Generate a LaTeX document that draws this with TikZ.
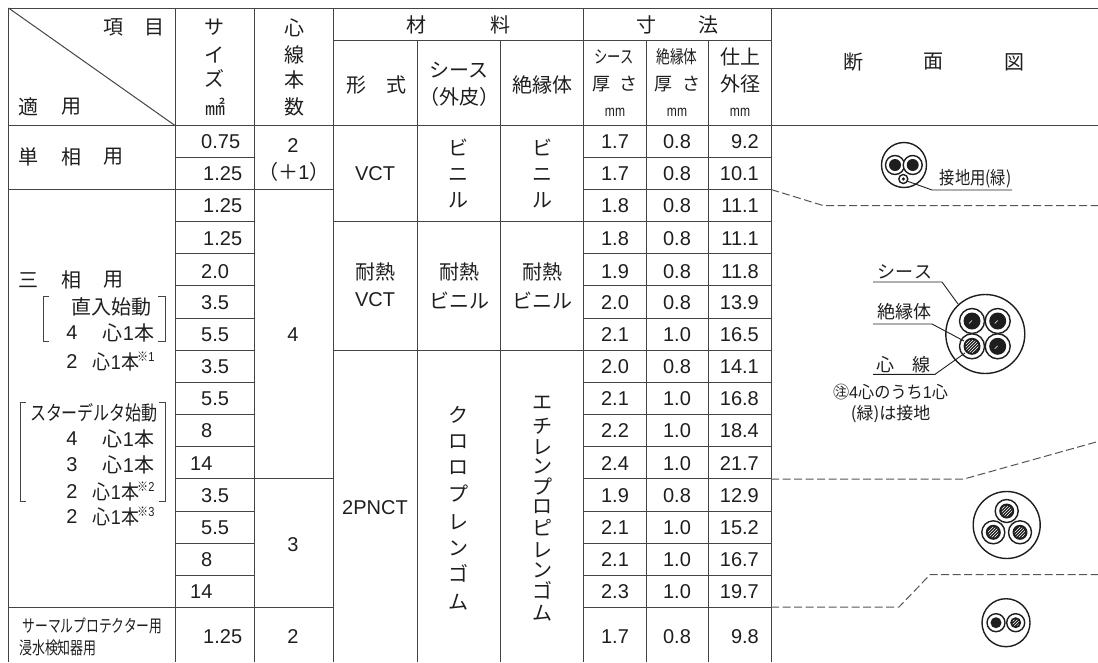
\documentclass[tikz,border=0pt]{standalone}
\usepackage{fontspec}
\usetikzlibrary{patterns}
\setmainfont{Liberation Sans}
\newfontfamily\jp{Noto Sans CJK JP}
\newcommand{\fs}[1]{\fontsize{#1}{#1}\selectfont}
\newcommand{\J}[1]{{\jp #1}}
\newcommand{\cond}[2]{\scalebox{#1}[1]{#2}}
\definecolor{ink}{HTML}{1E1E1E}
\definecolor{rule}{HTML}{444444}
\definecolor{dashc}{HTML}{555555}
\newcounter{tn}
% text node with automatic name: \T[options]{x}{y}{text}
\newcommand{\T}[4][]{\stepcounter{tn}\node[txt,#1] (t\arabic{tn}) at (#2,#3) {#4};}
\newcommand{\wirecore}[4]{\draw[wire,fill=white] (#1,#2) circle[radius=#3];\fill[ink] (#1,#2) circle[radius=#4];}
\newcommand{\hatchcore}[4]{\wirecore{#1}{#2}{#3}{#4}\fill[pattern=north east lines,pattern color=white] (#1,#2) circle[radius=#4-2];}
\newcommand{\slashcore}[4]{\wirecore{#1}{#2}{#3}{#4}\draw[white,line width=0.4pt] (#1-3,#2+2.5) -- (#1,#2-0.5);}
\tikzset{
  txt/.style={inner sep=0pt,text=ink,font=\jp\fs{20}},
  num/.style={inner sep=0pt,text=ink,font=\fs{20}},
  unit/.style={inner sep=0pt,text=ink,font=\fs{15.5}},
  grid/.style={draw=rule,line width=1pt},
  wire/.style={draw=ink,line width=1.4pt},
  lead/.style={draw=ink,line width=0.9pt},
  dashline/.style={draw=dashc,line width=1pt,dash pattern=on 8pt off 3.5pt},
}
\begin{document}
\begin{tikzpicture}[x=1pt,y=-1pt]
\useasboundingbox (0,0) rectangle (1098,662);
% ---- grid
\draw[grid] (8.5,8) -- (1098,8);
\draw[grid] (333.5,40) -- (771,40);
\draw[grid] (8.5,125.5) -- (1098,125.5);
\draw[grid] (8.5,8) -- (175,125.5);
\foreach \xx in {8.5,175,254.5,333.5,771} \draw[grid] (\xx,8) -- (\xx,662);
\foreach \xx in {417,500.5,583.5} \draw[grid] (\xx,40) -- (\xx,662);
\draw[grid] (583.5,8) -- (583.5,40);
\foreach \xx in {646,708} \draw[grid] (\xx,40) -- (\xx,662);
% size and dimension rows
\foreach \yy in {157.5,189.5,221.5,253.7,285.8,318,350,382,414,446.5,478.5,511,543,575,607} {
  \draw[grid] (175,\yy) -- (254.5,\yy);
  \draw[grid] (583.5,\yy) -- (771,\yy);
}
\draw[grid] (8.5,189.5) -- (333.5,189.5);
\draw[grid] (8.5,607) -- (333.5,607);
\draw[grid] (254.5,478.5) -- (333.5,478.5);
\draw[grid] (333.5,221.5) -- (583.5,221.5);
\draw[grid] (333.5,350) -- (583.5,350);
% ---- header
\T{113}{27.5}{項}\T{154}{27.5}{目}
\T{29}{107}{適}\T{71}{107}{用}
\T{214.5}{27}{サ}\T{214.5}{55}{イ}\T{214.5}{78}{ズ}
\T{215}{107}{㎟}
\T{294.7}{28}{心}\T{294.7}{55}{線}\T{294.7}{80}{本}\T{294.7}{107}{数}
\T{416.7}{25}{材}\T{500.7}{25}{料}
\T{646}{25}{寸}\T{708}{25}{法}
\T{356}{85}{形}\T{396}{85}{式}
\T{459}{70}{シース}
\T{459}{97}{（外皮）}
\T{542}{85}{絶縁体}
\T{614}{57}{\fs{18}\cond{.74}{シース}}
\T{601}{84}{\fs{18}厚}\T{628}{84}{\fs{18}さ}
\T[unit]{615}{112}{\cond{.78}{mm}}
\T{677}{57}{\fs{18}\cond{.76}{絶縁体}}
\T{663}{84}{\fs{18}厚}\T{691}{84}{\fs{18}さ}
\T[unit]{677}{112}{\cond{.78}{mm}}
\T{740}{57}{仕上}\T{740}{84}{外径}
\T[unit]{740}{112}{\cond{.78}{mm}}
\T{853}{62}{断}\T{933}{62}{面}\T{1014}{62}{図}
% ---- first column
\T{29}{157}{単}\T{71}{157}{相}\T{113}{157}{用}
\T{29}{280}{三}\T{71}{280}{相}\T{113}{280}{用}
\T{111.5}{307}{直入始動}
\T[num]{72}{333}{4}
\T{128.5}{333}{\J{心}\fs{20}\rmfamily 1\J{本}}
\T[num]{72}{362}{2}
\T{116}{362}{\cond{.9}{\J{心}\fs{20}\rmfamily 1\J{本}}}
\T[anchor=west]{137}{357}{\fs{13}\cond{.85}{\J{※}\rmfamily 1}}
\draw[grid] (49,296) -- (43,296) -- (43,341) -- (49,341);
\draw[grid] (158,296) -- (165,296) -- (165,341) -- (158,341);
\T{94}{413}{\cond{.8}{スターデルタ始動}}
\T[num]{72}{439}{4}
\T{128.5}{439}{\J{心}\fs{20}\rmfamily 1\J{本}}
\T[num]{72}{465}{3}
\T{128.5}{465}{\J{心}\fs{20}\rmfamily 1\J{本}}
\T[num]{72}{492}{2}
\T{116}{492}{\cond{.9}{\J{心}\fs{20}\rmfamily 1\J{本}}}
\T[anchor=west]{137}{487}{\fs{13}\cond{.85}{\J{※}\rmfamily 2}}
\T[num]{72}{517}{2}
\T{116}{517}{\cond{.9}{\J{心}\fs{20}\rmfamily 1\J{本}}}
\T[anchor=west]{137}{512}{\fs{13}\cond{.85}{\J{※}\rmfamily 3}}
\draw[grid] (26,402) -- (20,402) -- (20,501) -- (26,501);
\draw[grid] (159,402) -- (165,402) -- (165,501) -- (159,501);
\T{92.5}{626}{\fs{17.5}\cond{.73}{サーマルプロテクター用}}
\T{58}{648}{\fs{17.5}\cond{.74}{浸水検知器用}}
% ---- numeric rows
\foreach \i/\yy/\sz/\sx/\sh/\ins/\od in {
 1/142/0.75/201/1.7/0.8/9.2, 2/174/1.25/203/1.7/0.8/10.1, 3/206/1.25/203/1.8/0.8/11.1,
 4/239/1.25/203/1.8/0.8/11.1, 5/272/2.0/201/1.9/0.8/11.8, 6/303/3.5/201/2.0/0.8/13.9,
 7/335/5.5/201/2.1/1.0/16.5, 8/367/3.5/201/2.0/0.8/14.1, 9/399/5.5/201/2.1/1.0/16.8,
 10/431/8/201/2.2/1.0/18.4, 11/464/14/190/2.4/1.0/21.7, 12/496/3.5/201/1.9/0.8/12.9,
 13/528/5.5/201/2.1/1.0/15.2, 14/560/8/201/2.1/1.0/16.7, 15/592/14/190/2.3/1.0/19.7,
 16/637/1.25/203/1.7/0.8/9.8} {
  \node[num,anchor=west] (size\i) at (\sx,\yy) {\sz};
  \node[num] (sheath\i) at (615,\yy) {\sh};
  \node[num] (insul\i) at (677,\yy) {\ins};
  \node[num,anchor=east] (od\i) at (759,\yy) {\od};
}
% ---- core count
\T[num]{293}{146}{2}
\T[num]{294}{172}{\J{（＋}1\J{）}}
\T[num]{293}{335}{4}
\T[num]{293}{545}{3}
\T[num]{293}{637}{2}
% ---- materials
\T[num]{375}{174}{VCT}
\T{458}{147}{ビ}\T{458}{175}{ニ}\T{458}{200}{ル}
\T{542}{147}{ビ}\T{542}{175}{ニ}\T{542}{200}{ル}
\T{375}{272}{耐熱}\T[num]{375}{300}{VCT}
\T{459}{272}{耐熱}\T{459}{300}{ビニル}
\T{542}{272}{耐熱}\T{542}{300}{ビニル}
\T[num]{375}{508}{2PNCT}
\foreach \c/\yy in {ク/415,ロ/442,ロ/468,プ/494,レ/522,ン/548,ゴ/573,ム/602} {\T{458.7}{\yy}{\c}}
\foreach \c/\yy in {エ/403,チ/426,レ/447,ン/466,プ/487,ロ/507,ピ/528,レ/550,ン/570,ゴ/590,ム/613} {\T{542}{\yy}{\c}}
% ---- dashed separators
\coordinate (d1a) at (771,189.5);\coordinate (d1b) at (823,205.5);\coordinate (d1c) at (1098,205.5);
\coordinate (d2a) at (771,479);\coordinate (d2b) at (964,479);\coordinate (d2c) at (1098,441.5);
\coordinate (d3a) at (771,607);\coordinate (d3b) at (899,607);\coordinate (d3c) at (930,574.7);\coordinate (d3d) at (1098,574.7);
\draw[dashline] (d1a) -- (d1b) -- (d1c);
\draw[dashline] (d2a) -- (d2b) -- (d2c);
\draw[dashline] (d3a) -- (d3b) -- (d3c) -- (d3d);
% ---- cable 1
\draw[wire] (904,165) circle[radius=22.5];
\wirecore{895}{165}{9.5}{6}
\wirecore{912.7}{165}{9.5}{6}
\wirecore{903.3}{179}{4.5}{1.8}
\coordinate (l1a) at (907,181);\coordinate (l1b) at (932,190);\coordinate (l1c) at (1012,190);
\draw[lead] (l1a) -- (l1b) -- (l1c);
\T{975.5}{179}{\fs{18}\cond{.85}{接地用(緑)}}
% ---- cable 2
\draw[wire] (985.3,334) circle[radius=39.5];
\slashcore{972}{321}{12.5}{8.5}
\slashcore{997.7}{321}{12.5}{8.5}
\hatchcore{972}{346.3}{12.5}{8.5}
\slashcore{997.7}{346.3}{12.5}{8.5}
\coordinate (l2a) at (873,282);\coordinate (l2b) at (942,282);\coordinate (l2c) at (958,304);
\coordinate (l3a) at (873,324);\coordinate (l3b) at (932,324);\coordinate (l3c) at (964,341);
\coordinate (l4a) at (873,374.3);\coordinate (l4b) at (935,374.3);\coordinate (l4c) at (965,353);
\draw[lead] (l2a) -- (l2b) -- (l2c);
\draw[lead] (l3a) -- (l3b) -- (l3c);
\draw[lead] (l4a) -- (l4b) -- (l4c);
\T{905}{272}{\fs{18}シ\hspace{0.5pt}ー\hspace{0.5pt}ス}
\T{904}{312}{\fs{18}絶縁体}
\T{885}{365}{\fs{18}心}\T{921.7}{365}{\fs{18}線}
\T{890.5}{392}{\fs{17}\cond{.95}{㊟\rmfamily 4\J{心のうち}1\J{心}}}
\T{890.5}{414}{\fs{17}(緑)は接地}
% ---- cable 3
\draw[wire] (1006.7,525) circle[radius=33.5];
\hatchcore{1006.7}{511}{11.5}{7.5}
\hatchcore{993.3}{532.3}{11.5}{7.5}
\hatchcore{1020}{532.3}{11.5}{7.5}
% ---- cable 4
\draw[wire] (1006,622.7) circle[radius=24];
\wirecore{996}{622.7}{9}{5.5}
\hatchcore{1015.7}{622.7}{9}{5.5}
\end{tikzpicture}
\end{document}
